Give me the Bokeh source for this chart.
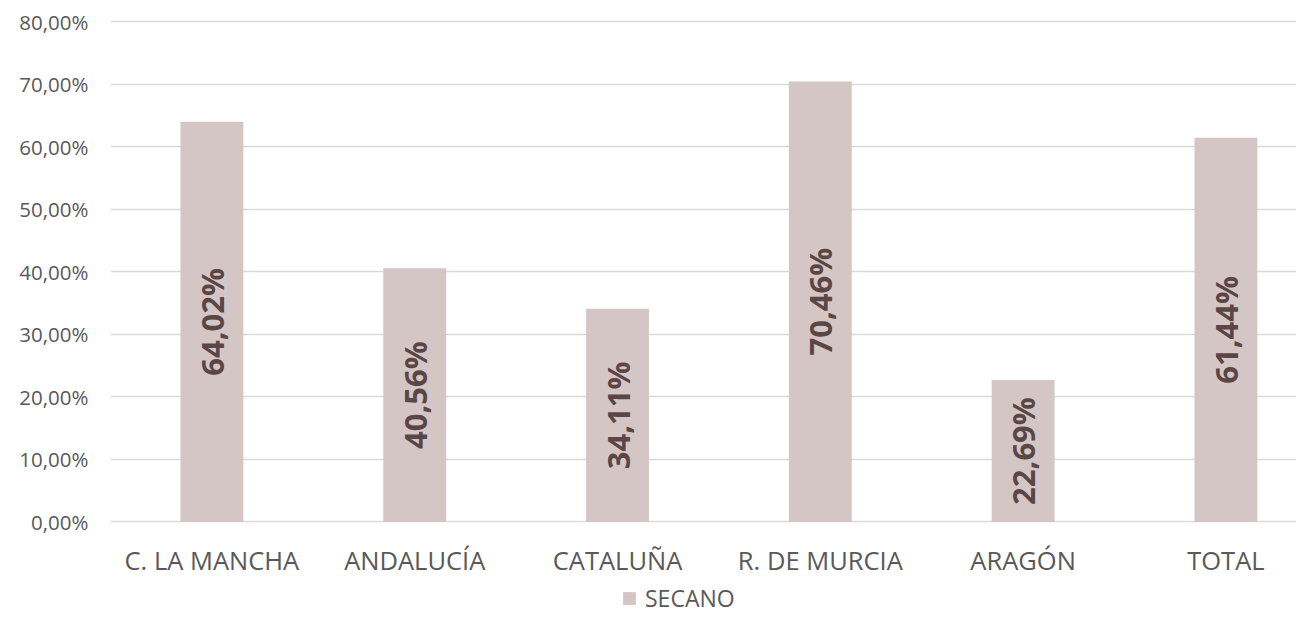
import numpy as np
from bokeh.plotting import figure
from bokeh.layouts import column
from bokeh.models import ColumnDataSource, Range1d, FixedTicker, Legend, LegendItem
from bokeh.core.properties import value
from bokeh.embed import file_html
from bokeh.resources import INLINE

categories = ["C. LA MANCHA", "ANDALUCÍA", "CATALUÑA", "R. DE MURCIA", "ARAGÓN", "TOTAL"]
secano = [64.02, 40.56, 34.11, 70.46, 22.69, 61.44]
y_ticks = [0, 10, 20, 30, 40, 50, 60, 70, 80]
series_name = "SECANO"


def pct(v):
    return f"{v:.2f}".replace(".", ",") + "%"


x_pos = [i + 0.5 for i in range(len(categories))]
src = ColumnDataSource(dict(
    x=x_pos,
    top=secano,
    mid=[v / 2 for v in secano],
    label=[pct(v) for v in secano],
))

FONT = "Open Sans"
GREY = "#595959"
BAR = "#d4c6c5"

p = figure(width=1296, height=579, output_backend="svg", toolbar_location=None,
           x_range=Range1d(0, 5.848), y_range=Range1d(-0.4, 81),
           min_border_left=110, min_border_right=0, min_border_top=15,
           min_border_bottom=53)
p.outline_line_color = None
p.background_fill_color = "white"
p.border_fill_color = "white"

bars = p.vbar(x="x", top="top", bottom=0, width=0.31, source=src,
              fill_color=BAR, line_color=None)

p.text(x="x", y="mid", text="label", source=src, angle=np.pi / 2,
       text_align="center", text_baseline="middle",
       text_font=value(FONT), text_font_style="bold", text_font_size="31px",
       text_color="#5a4646")

# axes
p.xaxis.ticker = FixedTicker(ticks=x_pos)
p.xaxis.major_label_overrides = {x: c for x, c in zip(x_pos, categories)}
p.yaxis.ticker = FixedTicker(ticks=y_ticks)
p.yaxis.major_label_overrides = {t: pct(t) for t in y_ticks}

for ax in (p.xaxis[0], p.yaxis[0]):
    ax.axis_line_color = None
    ax.major_tick_line_color = None
    ax.minor_tick_line_color = None
    ax.major_tick_out = 0
    ax.major_tick_in = 0
    ax.minor_tick_out = 0
    ax.major_label_text_font = FONT
    ax.major_label_text_color = GREY

p.yaxis.major_label_text_font_size = "20.5px"
p.yaxis.major_label_standoff = 22
p.xaxis.major_label_text_font_size = "25.5px"
p.xaxis.major_label_standoff = 18

p.xgrid.visible = False
p.ygrid.ticker = FixedTicker(ticks=y_ticks)
p.ygrid.grid_line_color = "#d9d9d9"
p.ygrid.grid_line_width = 1.4

# legend strip below the chart (its frame is aligned with the chart's frame)
lf = figure(width=1296, height=35, output_backend="svg", toolbar_location=None,
            x_axis_type=None, y_axis_type=None,
            x_range=Range1d(0, 1), y_range=Range1d(0, 1),
            min_border=0, min_border_left=0, min_border_right=0,
            min_border_top=0, min_border_bottom=0)
lf.outline_line_color = None
lf.background_fill_color = "white"
lf.border_fill_color = "white"
lf.xgrid.visible = False
lf.ygrid.visible = False
# legend key proxy with zero height (draws nothing itself)
key = lf.vbar(x=[0.5], top=[0], bottom=[0], width=0.1, fill_color=BAR,
              line_color=None)

legend = Legend(items=[LegendItem(label=series_name, renderers=[key])],
                orientation="horizontal", location=(511, 0),
                glyph_width=16, glyph_height=16, label_standoff=8,
                label_text_font=FONT, label_text_font_size="23px",
                label_text_color=GREY, padding=0, margin=0, spacing=0,
                border_line_color=None, background_fill_alpha=0)
lf.add_layout(legend)

layout = column(p, lf, spacing=0)
open("out.html", "w").write(file_html(layout, INLINE))
